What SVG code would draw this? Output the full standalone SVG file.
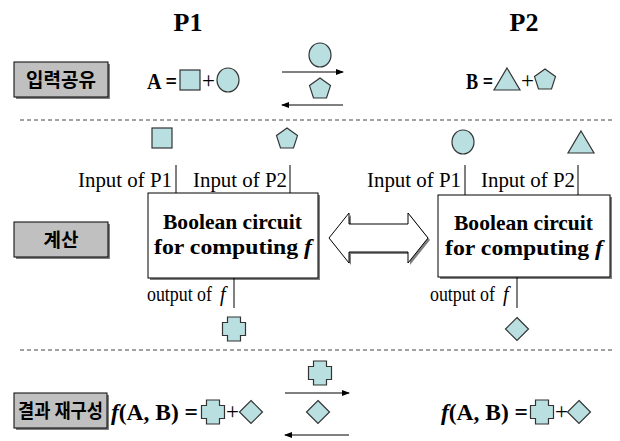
<svg xmlns="http://www.w3.org/2000/svg" width="620" height="441" viewBox="0 0 620 441">
<style>
.t{font-family:"Liberation Serif","Times New Roman",serif;fill:#000}
.b{font-weight:bold}
.i{font-style:italic}
.k{font-family:"Noto Sans CJK KR","Noto Sans",sans-serif;font-weight:bold;font-size:19px;fill:#000}
.lab{font-size:20px}
.bc{font-size:21px;font-weight:bold}
.eq{font-size:23px}
.sh{fill:#b9dfe1;stroke:#333;stroke-width:1.2}
.gbox{fill:#c0c0c0;stroke:#000;stroke-width:1}
.shadow{fill:#808080}
.wbox{fill:#fff;stroke:#000;stroke-width:1}
.ln{stroke:#000;stroke-width:1;fill:none}
.dash{stroke:#444;stroke-width:1;stroke-dasharray:4 3;fill:none}
</style>
<defs>
<marker id="ah" markerWidth="8" markerHeight="6" refX="7" refY="3" orient="auto" markerUnits="userSpaceOnUse">
<path d="M0,0 L8,3 L0,6 Z" fill="#000"/>
</marker>
<polygon id="pent" class="sh" points="0,-11 10.5,-3.4 6.5,9 -6.5,9 -10.5,-3.4"/>
<polygon id="cross" class="sh" points="-6.5,-12 6.5,-12 6.5,-6.5 11.5,-6.5 11.5,6.5 6.5,6.5 6.5,12 -6.5,12 -6.5,6.5 -11.5,6.5 -11.5,-6.5 -6.5,-6.5"/>
<polygon id="diam" class="sh" points="0,-11.5 11.5,0 0,11.5 -11.5,0"/>
<polygon id="tri" class="sh" points="0,-11 13,11 -13,11"/>
<rect id="sq" class="sh" x="-10" y="-10" width="20" height="20"/>
<ellipse id="circ" class="sh" rx="11" ry="12"/>
</defs>

<g id="titles">
<text class="t b" x="188" y="31" font-size="26" text-anchor="middle">P1</text>
<text class="t b" x="524" y="31" font-size="26" text-anchor="middle">P2</text>
</g>

<g id="label-input">
<rect class="shadow" x="16" y="64" width="94" height="35"/>
<rect class="gbox" x="14" y="62" width="94" height="35"/>
<text class="k" x="61" y="87" text-anchor="middle">입력공유</text>
</g>

<g id="eq-A">
<text class="t b eq" x="147" y="89" textLength="30" lengthAdjust="spacingAndGlyphs">A =</text>
<use href="#sq" x="190" y="80"/>
<text class="t eq" x="202" y="88">+</text>
<use href="#circ" x="228" y="80"/>
</g>

<g id="exchange-input">
<use href="#circ" x="320" y="55"/>
<use href="#pent" x="320" y="89"/>
</g>

<g id="eq-B">
<text class="t b eq" x="466" y="89" textLength="27" lengthAdjust="spacingAndGlyphs">B =</text>
<use href="#tri" x="507" y="79"/>
<text class="t eq" x="521" y="88">+</text>
<use href="#pent" x="545" y="80"/>
</g>

<g id="dividers">
<line class="dash" x1="20" y1="120" x2="615" y2="120"/>
<line class="dash" x1="20" y1="350" x2="615" y2="350"/>
</g>

<g id="label-compute">
<rect class="shadow" x="16" y="224" width="94" height="35"/>
<rect class="gbox" x="14" y="222" width="94" height="35"/>
<text class="k" x="61" y="247" text-anchor="middle">계산</text>
</g>

<g id="circuit-P1">
<use href="#sq" x="162" y="138"/>
<use href="#pent" x="287" y="139"/>
<text class="t lab" x="78" y="187" textLength="94" lengthAdjust="spacingAndGlyphs">Input of P1</text>
<text class="t lab" x="193" y="187" textLength="94" lengthAdjust="spacingAndGlyphs">Input of P2</text>
<rect class="shadow" x="150" y="195" width="170" height="85"/>
<rect class="wbox" x="148" y="193" width="170" height="85"/>
<text class="t bc" x="163" y="229" textLength="139" lengthAdjust="spacingAndGlyphs">Boolean circuit</text>
<text class="t bc" x="154" y="254" textLength="158" lengthAdjust="spacingAndGlyphs">for computing <tspan class="i">f</tspan></text>
<text class="t lab" x="147" y="301" textLength="65" lengthAdjust="spacingAndGlyphs">output of</text>
<text class="t lab i" x="220" y="301">f</text>
<use href="#cross" x="234" y="329"/>
</g>

<g id="circuit-P2">
<use href="#circ" x="463" y="142"/>
<use href="#tri" x="581" y="142"/>
<text class="t lab" x="367" y="187" textLength="94" lengthAdjust="spacingAndGlyphs">Input of P1</text>
<text class="t lab" x="481" y="187" textLength="94" lengthAdjust="spacingAndGlyphs">Input of P2</text>
<rect class="shadow" x="440" y="197" width="172" height="82"/>
<rect class="wbox" x="438" y="195" width="172" height="82"/>
<text class="t bc" x="454" y="230" textLength="139" lengthAdjust="spacingAndGlyphs">Boolean circuit</text>
<text class="t bc" x="445" y="255" textLength="158" lengthAdjust="spacingAndGlyphs">for computing <tspan class="i">f</tspan></text>
<text class="t lab" x="430" y="301" textLength="65" lengthAdjust="spacingAndGlyphs">output of</text>
<text class="t lab i" x="503" y="301">f</text>
<use href="#diam" x="517" y="329"/>
</g>

<g id="double-arrow">
<polygon class="shadow" points="331,240 351,215 351,226 410,226 410,215 430,240 410,265 410,254 351,254 351,265"/>
<polygon class="wbox" points="329,238 349,213 349,224 408,224 408,213 428,238 408,263 408,252 349,252 349,263"/>
</g>

<g id="label-result">
<rect class="shadow" x="16" y="395" width="93" height="35"/>
<rect class="gbox" x="14" y="393" width="93" height="35"/>
<text class="k" x="18" y="418" textLength="85" lengthAdjust="spacingAndGlyphs">결과 재구성</text>
</g>

<g id="eq-result-P1">
<text class="t b eq" x="111" y="420" textLength="87" lengthAdjust="spacingAndGlyphs"><tspan class="i">f</tspan>(A, B) =</text>
<use href="#cross" x="213" y="412"/>
<text class="t eq" x="226" y="419">+</text>
<use href="#diam" x="251" y="412"/>
</g>

<g id="exchange-result">
<use href="#cross" x="320" y="373"/>
<use href="#diam" x="318" y="412"/>
</g>

<g id="eq-result-P2">
<text class="t b eq" x="441" y="420" textLength="87" lengthAdjust="spacingAndGlyphs"><tspan class="i">f</tspan>(A, B) =</text>
<use href="#cross" x="542" y="412"/>
<text class="t eq" x="555" y="419">+</text>
<use href="#diam" x="579" y="412"/>
</g>

<g id="connectors">
<line class="ln" x1="282" y1="72" x2="343" y2="72" marker-end="url(#ah)"/>
<line class="ln" x1="343" y1="105" x2="282" y2="105" marker-end="url(#ah)"/>
<line class="ln" x1="176" y1="165" x2="176" y2="193"/>
<line class="ln" x1="290" y1="165" x2="290" y2="193"/>
<line class="ln" x1="234" y1="278" x2="234" y2="308"/>
<line class="ln" x1="465" y1="165" x2="465" y2="195"/>
<line class="ln" x1="578" y1="165" x2="578" y2="195"/>
<line class="ln" x1="517" y1="277" x2="517" y2="308"/>
<line class="ln" x1="285" y1="393" x2="349" y2="393" marker-end="url(#ah)"/>
<line class="ln" x1="349" y1="435" x2="285" y2="435" marker-end="url(#ah)"/>
</g>
</svg>
